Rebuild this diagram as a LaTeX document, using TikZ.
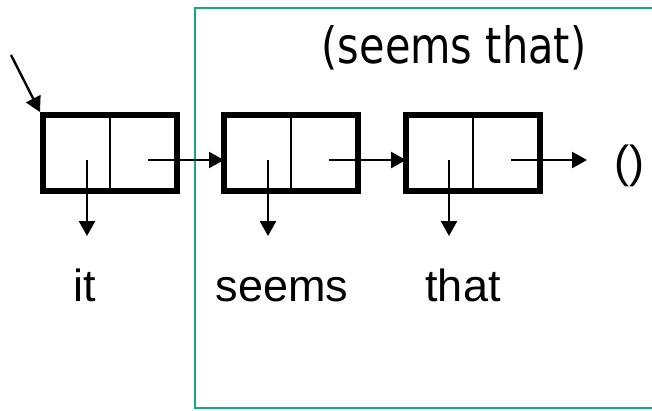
\documentclass[tikz,border=0pt]{standalone}
\usepackage{fontspec}
\setmainfont{Liberation Sans}
\newfontfamily\titlefont{DejaVu Sans}
\usetikzlibrary{arrows.meta}
\definecolor{framegreen}{RGB}{20,170,130}
\begin{document}
\begin{tikzpicture}[x=1pt,y=-1pt,
  cell/.style={draw,line width=6pt,minimum width=134pt,minimum height=76pt,inner sep=0pt},
  ptr/.style={line width=2.4pt,-{Triangle[length=15pt,width=16pt]}},
  word/.style={font=\fontsize{45}{54}\selectfont,anchor=base,inner sep=0pt},
  frameline/.style={draw=framegreen,line width=2pt}]
  \useasboundingbox (0,0) rectangle (652,410);

  % frame around the sub-list
  \draw[frameline] (654,8) -- (195,8) -- (195,408) -- (654,408);
  \node[font=\titlefont\fontsize{50}{60}\selectfont,anchor=base,inner sep=0pt] (title) at (454,63)
    {\scalebox{0.83}[1]{(seems that)}};

  % cons cells
  \node[cell] (c1) at (110,153) {};
  \node[cell] (c2) at (291,153) {};
  \node[cell] (c3) at (473,153) {};
  \foreach \c in {c1,c2,c3}
    \draw[line width=2.4pt] (\c.north) -- (\c.south);

  % car / cdr pointer origins
  \coordinate (a1) at (87,160);  \coordinate (d1) at (148,160);
  \coordinate (a2) at (268,160); \coordinate (d2) at (329,160);
  \coordinate (a3) at (449,160); \coordinate (d3) at (511,160);
  \coordinate (e1) at (87,236);  \coordinate (e2) at (268,236);
  \coordinate (e3) at (449,236);
  \coordinate (nilend) at (587,160);
  \coordinate (start) at (11,55);

  % atoms
  \node[word] (it) at (85,301) {it};
  \node[word] (seems) at (282,301) {seems};
  \node[word] (that) at (463,301) {that};
  \node[word] (nil) at (629,177) {()};

  % pointers
  \draw[ptr] (start) -- (c1.north west);
  \draw[ptr] (a1) -- (e1);
  \draw[ptr] (a2) -- (e2);
  \draw[ptr] (a3) -- (e3);
  \draw[ptr,shorten >=-3pt] (d1) -- (c2.west |- d1);
  \draw[ptr,shorten >=-3pt] (d2) -- (c3.west |- d2);
  \draw[ptr] (d3) -- (nilend);
\end{tikzpicture}
\end{document}
